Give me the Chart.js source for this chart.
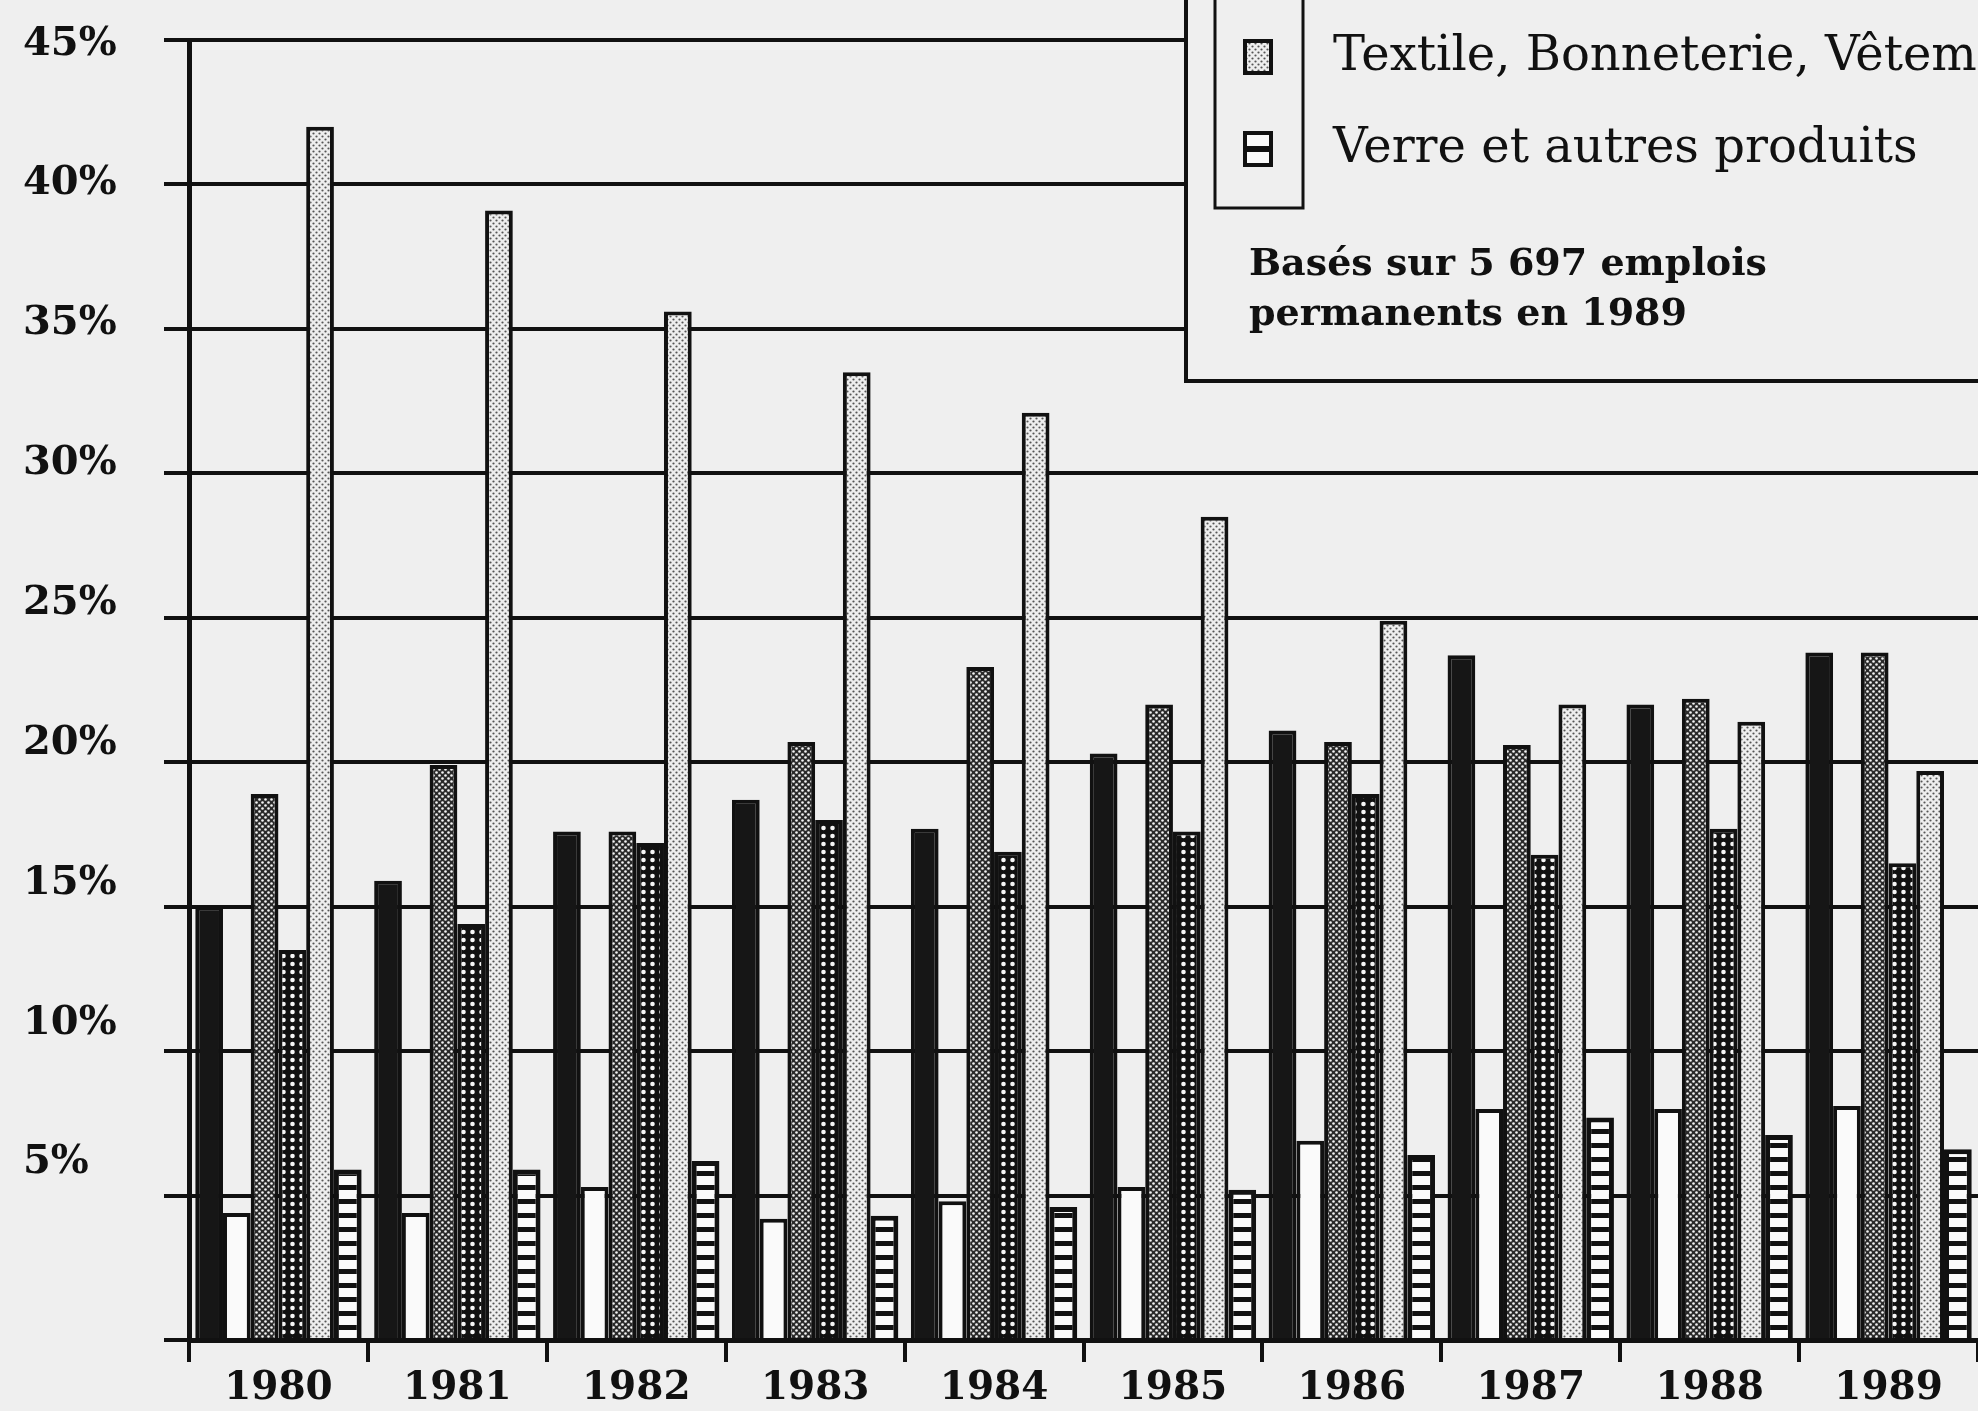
<!DOCTYPE html>
<html>
<head>
<meta charset="utf-8">
<script src="https://cdn.jsdelivr.net/npm/chart.js@4"></script>
<style>
  html, body { margin: 0; padding: 0; background: #efefef; }
  #wrap { width: 1978px; height: 1411px; position: relative; }
</style>
</head>
<body>
<div id="wrap"><canvas id="myChart"></canvas></div>
<script>
// years on the x axis
var years = ['1980', '1981', '1982', '1983', '1984', '1985', '1986', '1987', '1988', '1989'];

// share of permanent jobs, per sector (%)
var serie1 = [15.0, 15.9, 17.6, 18.7, 17.7, 20.3, 21.1, 23.7, 22.0, 23.8];   // black
var serie2 = [4.4, 4.4, 5.3, 4.2, 4.8, 5.3, 6.9, 8.0, 8.0, 8.1];            // white
var serie3 = [18.9, 19.9, 17.6, 20.7, 23.3, 22.0, 20.7, 20.6, 22.2, 23.8];  // checkered
var serie4 = [13.5, 14.4, 17.2, 18.0, 16.9, 17.6, 18.9, 16.8, 17.7, 16.5];  // dark dots
var textile = [42.0, 39.1, 35.6, 33.5, 32.1, 28.5, 24.9, 22.0, 21.4, 19.7];
var verre = [5.9, 5.9, 6.2, 4.3, 4.6, 5.2, 6.4, 7.7, 7.1, 6.6];

var yTicks = [0, 5, 10, 15, 20, 25, 30, 35, 40, 45];
var note = ['Basés sur 5 697 emplois', 'permanents en 1989'];

var INK = '#111';
var PAPER = '#efefef';
var SERIF = '"DejaVu Serif", "Liberation Serif", serif';

// small tiles used as bar fills
function makePattern(w, h, draw) {
  var c = document.createElement('canvas');
  c.width = w; c.height = h;
  var g = c.getContext('2d');
  draw(g);
  return g.createPattern(c, 'repeat');
}
function dot(g, x, y, r, col) {
  g.fillStyle = col;
  g.beginPath(); g.arc(x, y, r, 0, Math.PI * 2); g.fill();
}

var checkered = makePattern(6, 6, function (g) {
  g.fillStyle = '#2a2a2a'; g.fillRect(0, 0, 6, 6);
  dot(g, 1.5, 1.5, 1.3, '#f4f4f4');
  dot(g, 4.5, 4.5, 1.3, '#f4f4f4');
});
var darkDots = makePattern(9, 8, function (g) {
  g.fillStyle = '#111'; g.fillRect(0, 0, 9, 8);
  dot(g, 4.5, 4, 2.3, '#f6f6f6');
});
var lightDots = makePattern(6, 6, function (g) {
  g.fillStyle = '#eeeeee'; g.fillRect(0, 0, 6, 6);
  dot(g, 1.5, 1.5, 1.1, '#555');
  dot(g, 4.5, 4.5, 1.1, '#555');
});
var stripes = makePattern(10, 14, function (g) {
  g.fillStyle = '#fafafa'; g.fillRect(0, 0, 10, 14);
  g.fillStyle = INK; g.fillRect(0, 9, 10, 5);
});

// legend box, partly cut by the top and right edges like the scan
var legendBox = {
  id: 'legendBox',
  afterDraw: function (chart) {
    var ctx = chart.ctx;
    var ds = chart.data.datasets;
    ctx.save();
    ctx.fillStyle = PAPER;
    ctx.strokeStyle = INK;
    ctx.lineWidth = 4;
    ctx.fillRect(1186, -10, 900, 391);
    ctx.strokeRect(1186, -10, 900, 391);
    ctx.lineWidth = 3;
    ctx.strokeRect(1215, -10, 88, 218);

    // swatches
    ctx.lineWidth = 4;
    ctx.fillStyle = lightDots;
    ctx.fillRect(1245, 41, 26, 32);
    ctx.strokeRect(1245, 41, 26, 32);
    ctx.fillStyle = '#fafafa';
    ctx.fillRect(1245, 133, 26, 32);
    ctx.strokeRect(1245, 133, 26, 32);
    ctx.fillStyle = INK;
    ctx.fillRect(1245, 146, 26, 6);

    ctx.fillStyle = INK;
    ctx.textBaseline = 'middle';
    ctx.textAlign = 'left';
    ctx.font = '48px ' + SERIF;
    ctx.fillText(ds[4].label, 1333, 58);
    ctx.fillText(ds[5].label, 1333, 150);
    ctx.font = 'bold 38px ' + SERIF;
    ctx.fillText(note[0], 1249, 265);
    ctx.fillText(note[1], 1249, 315);
    ctx.restore();
  }
};

var barStyle = { borderColor: INK, borderWidth: 4, borderSkipped: 'bottom' };

var ctx = document.getElementById('myChart').getContext('2d');
var chart = new Chart(ctx, {
  type: 'bar',
  data: {
    labels: years,
    datasets: [
      Object.assign({ label: 'Série 1', data: serie1, backgroundColor: '#161616' }, barStyle),
      Object.assign({ label: 'Série 2', data: serie2, backgroundColor: '#fafafa' }, barStyle),
      Object.assign({ label: 'Série 3', data: serie3, backgroundColor: checkered }, barStyle),
      Object.assign({ label: 'Série 4', data: serie4, backgroundColor: darkDots }, barStyle),
      Object.assign({ label: 'Textile, Bonneterie, Vêtements', data: textile, backgroundColor: lightDots }, barStyle),
      Object.assign({ label: 'Verre et autres produits', data: verre, backgroundColor: stripes }, barStyle, { borderWidth: 5 })
    ]
  },
  options: {
    responsive: true,
    maintainAspectRatio: false,
    animation: false,
    layout: { padding: { left: 23, top: 40, right: 0, bottom: 0 } },
    datasets: { bar: { categoryPercentage: 0.93, barPercentage: 1.0 } },
    plugins: { legend: { display: false }, tooltip: { enabled: false } },
    scales: {
      x: {
        offset: true,
        grid: { display: true, drawOnChartArea: false, drawTicks: true, tickLength: 22, color: INK, lineWidth: 4 },
        border: { display: true, color: INK, width: 5 },
        ticks: { color: INK, font: { family: SERIF, size: 39, weight: 'bold' }, padding: 3, maxRotation: 0 },
        afterFit: function (s) { s.height = 71; }
      },
      y: {
        position: 'left',
        weight: 0,
        min: 0,
        max: 45,
        afterBuildTicks: function (s) { s.ticks = yTicks.map(function (v) { return { value: v }; }); },
        ticks: { display: false },
        grid: { color: INK, lineWidth: 4, tickLength: 25, drawTicks: true },
        border: { display: true, color: INK, width: 5 },
        afterFit: function (s) { s.width = 25; }
      },
      // label-only axis: the printed labels drift a little above the grid lines
      y2: {
        position: 'left',
        weight: 1,
        min: -1.33,
        max: 45.15,
        afterBuildTicks: function (s) { s.ticks = yTicks.map(function (v) { return { value: v }; }); },
        grid: { display: false },
        border: { display: false },
        ticks: {
          color: INK,
          crossAlign: 'far',
          font: { family: SERIF, size: 40, weight: 'bold' },
          callback: function (v) { return v === 0 ? '' : v + '%'; }
        },
        afterFit: function (s) { s.width = 141; }
      }
    }
  },
  plugins: [legendBox]
});
</script>
</body>
</html>
